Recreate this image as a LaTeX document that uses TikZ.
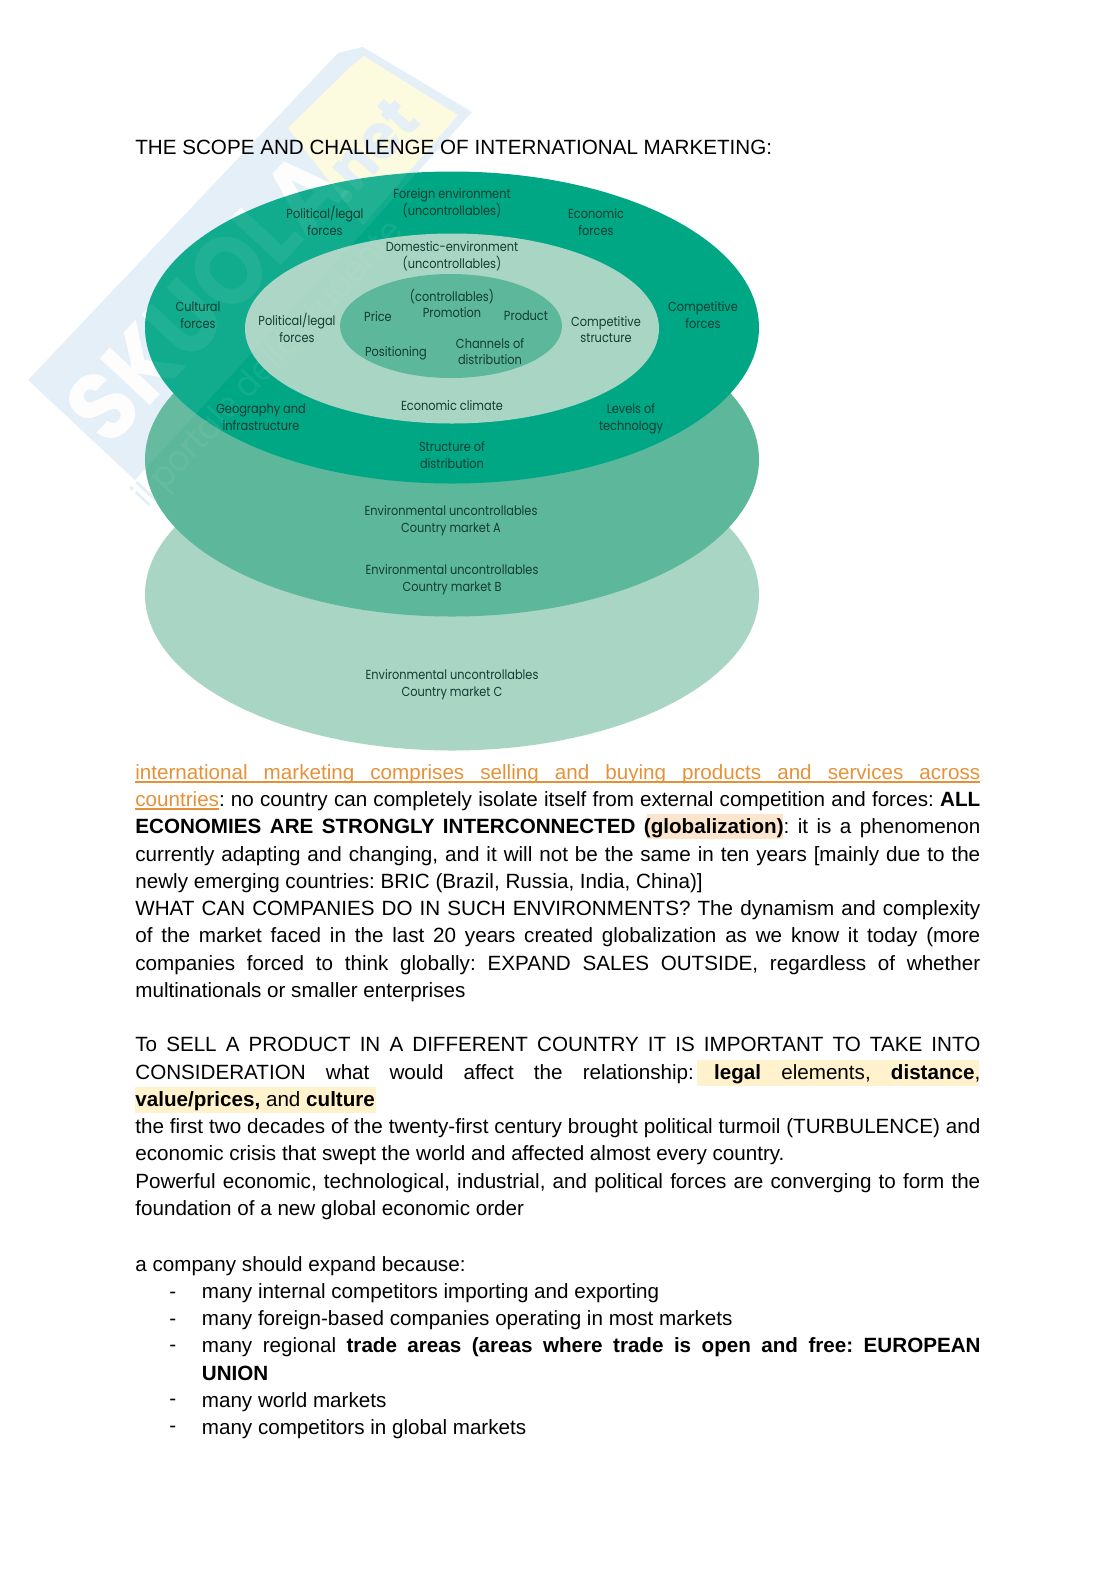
\documentclass[tikz,border=0pt]{standalone}
\usepackage{fontspec}
\setmainfont{Liberation Sans}
\newfontfamily\diagfont[FakeStretch=0.865]{Poppins}
\newfontfamily\markfont[FakeStretch=0.9]{Poppins}
\definecolor{ringgreen}{HTML}{00A785}
\definecolor{midgreen}{HTML}{5DB79A}
\definecolor{palegreen}{HTML}{A9D5C4}
\definecolor{labelink}{HTML}{123C32}
\definecolor{linkorange}{HTML}{E69138}
\definecolor{hlorange}{HTML}{FCE5CD}
\definecolor{hlyellow}{HTML}{FFF2CC}
\definecolor{markblue}{HTML}{E4EFF8}
\definecolor{markyellow}{HTML}{FEFCE0}
\tikzset{
  diaglabel/.style={font=\diagfont\fontsize{7}{9}\selectfont, align=center, text=labelink, inner sep=0pt},
  bodytext/.style={anchor=north west, inner sep=0pt, font=\fontsize{11}{14.55}\selectfont\frenchspacing},
  wholewidth/.style={bodytext, text width=450.7pt},
  listwidth/.style={bodytext, text width=415.4pt}
}
\newcommand{\fullline}[1]{\hbox to \hsize{\spaceskip=0pt\xspaceskip=0pt #1}\par}
\newcommand{\freeline}[1]{\hbox{\spaceskip=0pt\xspaceskip=0pt #1}\par}
\newcommand{\wmark}{
  \fill[markblue] (28,380) -- (338,53) -- (363,47) -- (472,112) -- (363,232) -- (135,480) -- cycle;
  \fill[markyellow] (349,68) -- (288,128) -- (363,225) -- (458,115) -- (364,56) -- cycle;
  \node[font=\markfont\bfseries\fontsize{52}{52}\selectfont, text=white, rotate=47, inner sep=0pt] (wordmark) at (205,297) {SKUOLA};
  \node[font=\markfont\bfseries\fontsize{34}{34}\selectfont, text=markblue, rotate=47, inner sep=0pt] (netmark) at (368,150) {.net};
  \node[font=\markfont\fontsize{19}{19}\selectfont, text=markblue, rotate=47, inner sep=0pt] (tagmark) at (270,365) {il portale dello studente};
}
\begin{document}
\begin{tikzpicture}[x=0.5334pt,y=-0.5334pt]
  \useasboundingbox (0,0) rectangle (1116,1580);

  % watermark under the rings
  \wmark

  \fill[palegreen] (452,594.5) ellipse [x radius=307,y radius=156];
  \fill[midgreen] (452,459.5) ellipse [x radius=307,y radius=157];
  \fill[ringgreen] (452,327.5) ellipse [x radius=307,y radius=156];
  \fill[palegreen] (452,328.5) ellipse [x radius=207,y radius=95];
  \fill[midgreen] (451,326) ellipse [x radius=111,y radius=52];

  % and faintly over them
  \begin{scope}[opacity=0.07]
    \wmark
  \end{scope}

  % highlights and underlines
  \fill[hlorange] (647,814) rectangle (783,839);
  \fill[hlyellow] (697,1060) rectangle (979,1086);
  \fill[hlyellow] (135,1087) rectangle (376,1113);
  \draw[linkorange,thick] (135,782) -- (980,782);
  \draw[linkorange,thick] (135,809) -- (219,809);

  \node[diaglabel] (foreign) at (452,203) {Foreign environment\\(uncontrollables)};
  \node[diaglabel] (polout) at (325,221) {Political/legal\\forces};
  \node[diaglabel] (econ) at (596,222) {Economic\\forces};
  \node[diaglabel] (domestic) at (452,256) {Domestic-environment\\(uncontrollables)};
  \node[diaglabel] (cultural) at (198,315) {Cultural\\forces};
  \node[diaglabel] (polin) at (297,328) {Political/legal\\forces};
  \node[diaglabel] (control) at (452,297) {(controllables)};
  \node[diaglabel] (promo) at (452,313) {Promotion};
  \node[diaglabel] (price) at (378,317) {Price};
  \node[diaglabel] (product) at (526,316) {Product};
  \node[diaglabel] (posit) at (396,353.5) {Positioning};
  \node[diaglabel] (channels) at (490,351.5) {Channels of\\distribution};
  \node[diaglabel] (compin) at (606,329.5) {Competitive\\structure};
  \node[diaglabel] (compout) at (703,315) {Competitive\\forces};
  \node[diaglabel] (geo) at (261,417) {Geography and\\infrastructure};
  \node[diaglabel] (climate) at (452,406) {Economic climate};
  \node[diaglabel] (tech) at (631,419) {Levels of\\technology};
  \node[diaglabel] (struct) at (452,455) {Structure of\\distribution};
  \node[diaglabel] (marketa) at (451,521) {Environmental uncontrollables\\Country market A};
  \node[diaglabel] (marketb) at (452,580) {Environmental uncontrollables\\Country market B};
  \node[diaglabel] (marketc) at (452,685) {Environmental uncontrollables\\Country market C};

  \node[bodytext, anchor=west] (title) at (135,147) {THE SCOPE AND CHALLENGE OF INTERNATIONAL MARKETING:};

  \node[wholewidth] (intro) at (135,764) {%
    \fullline{\textcolor{linkorange}{international marketing comprises selling and buying products and services across}}%
    \fullline{\textcolor{linkorange}{countries}: no country can completely isolate itself from external competition and forces: \textbf{ALL}}%
    \fullline{\textbf{ECONOMIES ARE STRONGLY INTERCONNECTED (globalization)}: it is a phenomenon}%
    \fullline{currently adapting and changing, and it will not be the same in ten years [mainly due to the}%
    \freeline{newly emerging countries: BRIC (Brazil, Russia, India, China)]}%
    \fullline{WHAT CAN COMPANIES DO IN SUCH ENVIRONMENTS? The dynamism and complexity}%
    \fullline{of the market faced in the last 20 years created globalization as we know it today (more}%
    \fullline{companies forced to think globally: EXPAND SALES OUTSIDE, regardless of whether}%
    \freeline{multinationals or smaller enterprises}};

  \node[wholewidth] (sell) at (135,1037) {%
    \fullline{To SELL A PRODUCT IN A DIFFERENT COUNTRY IT IS IMPORTANT TO TAKE INTO}%
    \fullline{CONSIDERATION what would affect the relationship: \textbf{legal} elements, \textbf{distance},}%
    \freeline{\textbf{value/prices,} and \textbf{culture}}%
    \fullline{the first two decades of the twenty-first century brought political turmoil (TURBULENCE) and}%
    \freeline{economic crisis that swept the world and affected almost every country.}%
    \fullline{Powerful economic, technological, industrial, and political forces are converging to form the}%
    \freeline{foundation of a new global economic order}};

  \node[wholewidth] (expand) at (135,1256) {\freeline{a company should expand because:}};

  \node[listwidth] (reasons) at (201.5,1283) {%
    \freeline{many internal competitors importing and exporting}%
    \freeline{many foreign-based companies operating in most markets}%
    \fullline{many regional \textbf{trade areas (areas where trade is open and free: EUROPEAN}}%
    \freeline{\textbf{UNION}}%
    \freeline{many world markets}%
    \freeline{many competitors in global markets}};

  \foreach \i/\y in {1/1295,2/1322,3/1348,4/1402,5/1429}
    \node[bodytext, anchor=west] (dash\i) at (169,\y) {-};
\end{tikzpicture}
\end{document}
